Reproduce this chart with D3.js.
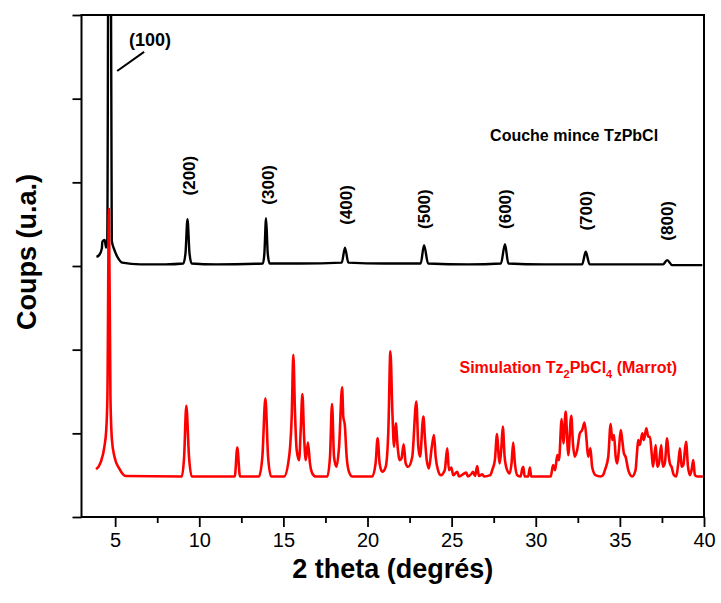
<!DOCTYPE html>
<html>
<head>
<meta charset="utf-8">
<script src="https://cdn.jsdelivr.net/npm/d3@7"></script>
<style>
  html, body { margin: 0; padding: 0; background: #fff; }
  svg { display: block; font-family: "Liberation Sans", Arial, Helvetica, sans-serif; }
</style>
</head>
<body>
<svg id="chart" width="721" height="603"></svg>
<script>
// ---------- data ----------
const xTicks = [5, 10, 15, 20, 25, 30, 35, 40];
const xMinorTicks = [7.5, 12.5, 17.5, 22.5, 27.5, 32.5, 37.5];
const yTicks = [0, 1, 2, 3, 4, 5, 6];

// Thin film pattern "Couche mince TzPbCl" : [2theta, counts (a.u.)]
const filmPattern = [
  [3.89,3.11],[4.05,3.13],[4.21,3.21],[4.24,3.29],[4.38,3.31],[4.46,3.22],[4.53,3.3],
  [4.66,12],[4.8,3.3],[4.96,3.19],[5.13,3.11],[5.42,3.04],[6.5,3.02],[8,3.02],
  [9.05,3.03],[9.18,3.15],[9.3,3.56],[9.42,3.15],[9.55,3.03],[11,3.02],
  [13.78,3.03],[13.87,3.15],[13.97,3.57],[14.07,3.15],[14.18,3.03],[16,3.03],
  [18.47,3.04],[18.66,3.22],[18.86,3.04],[21,3.03],
  [23.16,3.03],[23.36,3.25],[23.6,3.03],[26,3.02],
  [27.93,3.03],[28.17,3.26],[28.37,3.03],[30.5,3.02],
  [32.76,3.02],[32.97,3.17],[33.2,3.02],[35.5,3.02],
  [37.56,3.02],[37.81,3.07],[38.11,3.01],[39.9,3.01]
];

// Simulated pattern Tz2PbCl4 (Marrot) : [2theta, counts (a.u.)]
const simPattern = [
  [3.87,0.57],[4.15,0.66],[4.36,0.84],[4.47,1.04],[4.54,1.44],[4.63,3.68],[4.72,1.44],[4.81,0.92],
  [4.96,0.72],[5.24,0.58],[5.63,0.49],[8.96,0.484],[9.1,0.72],[9.23,1.33],[9.39,0.72],[9.55,0.484],
  [12.11,0.484],[12.26,0.83],[12.42,0.484],[13.55,0.484],[13.75,0.72],[13.93,1.42],[14.09,0.72],[14.27,0.484],
  [15.04,0.484],[15.34,0.72],[15.5,1.24],[15.59,1.94],[15.69,1.24],[15.79,0.8],[15.93,0.68],[16.03,1.04],
  [16.13,1.47],[16.23,0.96],[16.33,0.68],[16.46,0.89],[16.58,0.64],[16.72,0.52],[16.92,0.484],
  [17.61,0.484],[17.77,0.72],[17.89,1.35],[18.01,0.72],[18.15,0.6],[18.31,0.84],[18.49,1.55],[18.56,1.2],
  [18.65,1.1],[18.76,0.72],[18.9,0.54],[19.1,0.484],[20.28,0.484],[20.48,0.64],[20.6,0.94],[20.72,0.64],
  [20.88,0.54],[21.08,0.6],[21.24,1.04],[21.36,1.98],[21.48,1.24],[21.58,0.84],[21.68,1.12],[21.79,0.84],
  [21.91,0.68],[22.02,0.7],[22.15,0.87],[22.27,0.64],[22.42,0.6],[22.66,0.72],[22.9,1.38],[23.02,0.84],
  [23.12,0.72],[23.32,1.2],[23.42,0.92],[23.52,0.68],[23.65,0.58],[23.81,0.82],[23.95,0.98],[24.05,0.72],
  [24.19,0.56],[24.35,0.5],[24.59,0.56],[24.74,0.82],[24.84,0.56],[24.98,0.59],[25.1,0.5],[25.33,0.54],
  [25.44,0.484],[25.87,0.53],[25.97,0.484],[26.19,0.52],[26.27,0.54],[26.39,0.49],[26.52,0.61],[26.62,0.49],
  [26.82,0.51],[26.92,0.484],[27.3,0.5],[27.41,0.56],[27.57,0.68],[27.7,0.99],[27.8,0.72],[27.86,0.64],
  [27.96,0.84],[28.04,1.08],[28.15,0.72],[28.3,0.56],[28.45,0.52],[28.56,0.64],[28.66,0.89],[28.76,0.64],
  [28.9,0.5],[29.1,0.484],[29.2,0.58],[29.26,0.6],[29.34,0.484],[29.55,0.484],[29.65,0.59],[29.73,0.484],
  [30.89,0.484],[31.03,0.62],[31.15,0.56],[31.28,0.74],[31.38,0.68],[31.54,1.17],[31.64,0.88],[31.78,1.26],
  [31.87,0.92],[31.93,0.74],[32.11,1.21],[32.21,0.88],[32.31,0.72],[32.46,0.8],[32.62,1.0],[32.76,1.04],
  [32.9,1.13],[33.02,0.92],[33.11,0.72],[33.25,0.82],[33.35,0.6],[33.55,0.5],[33.85,0.484],[34.0,0.5],
  [34.11,0.56],[34.31,0.72],[34.45,1.11],[34.55,0.92],[34.65,0.98],[34.75,0.72],[34.84,0.64],[34.94,0.8],
  [35.05,1.04],[35.14,0.92],[35.24,0.76],[35.34,0.72],[35.5,0.56],[35.73,0.484],[35.93,0.56],[36.03,0.8],
  [36.09,0.92],[36.19,0.86],[36.33,1.0],[36.43,0.92],[36.57,1.06],[36.69,0.96],[36.79,0.96],[36.89,0.76],
  [36.97,0.6],[37.13,0.86],[37.22,0.6],[37.32,0.64],[37.46,0.86],[37.55,0.6],[37.67,0.64],[37.81,0.94],
  [37.91,0.72],[37.97,0.64],[38.07,0.6],[38.21,0.5],[38.35,0.484],[38.47,0.64],[38.57,0.82],[38.67,0.6],
  [38.77,0.62],[38.93,0.9],[39.05,0.6],[39.17,0.5],[39.26,0.56],[39.36,0.68],[39.46,0.5],[39.6,0.484],
  [39.93,0.484]
];

// Miller index labels of the film peaks
const peakLabels = ["(200)", "(300)", "(400)", "(500)", "(600)", "(700)", "(800)"];
const peakTheta  = [9.38, 14.1, 18.75, 23.38, 28.17, 32.97, 37.81];
const peakLabelLevel = [4.08, 3.97, 3.73, 3.68, 3.68, 3.66, 3.54];

// ---------- layout ----------
const svg = d3.select("#chart");
const L = 81.5, R = 704, T = 15, B = 517;

const x = d3.scaleLinear().domain([3, 40]).range([L, R]);
const y = d3.scaleLinear().domain([0, 6]).range([B, T]);

svg.append("defs").append("clipPath").attr("id", "plotclip")
  .append("rect").attr("x", L).attr("y", T).attr("width", R - L).attr("height", B - T);

const plot = svg.append("g").attr("clip-path", "url(#plotclip)");
const lineGen = d3.line().x(d => x(d[0])).y(d => y(d[1])).curve(d3.curveMonotoneX);

plot.append("path").datum(filmPattern)
  .attr("d", lineGen).attr("fill", "none")
  .attr("stroke", "#000").attr("stroke-width", 2.4).attr("stroke-linejoin", "round");

plot.append("path").datum(simPattern)
  .attr("d", lineGen).attr("fill", "none")
  .attr("stroke", "#ff0000").attr("stroke-width", 2.6).attr("stroke-linejoin", "round");

// ---------- axes ----------
const xAxis = svg.append("g").attr("transform", `translate(0,${B})`)
  .call(d3.axisBottom(x).tickValues(xTicks).tickSize(10).tickPadding(6).tickFormat(d3.format("d")));
xAxis.select(".domain").remove();
xAxis.selectAll(".tick line").attr("stroke", "#000").attr("stroke-width", 1.8);
xAxis.selectAll(".tick text").attr("font-size", 20).attr("fill", "#000")
  .attr("font-family", "'Liberation Sans', Arial, sans-serif");

const xMinor = svg.append("g").attr("transform", `translate(0,${B})`)
  .call(d3.axisBottom(x).tickValues(xMinorTicks).tickSize(6).tickFormat(""));
xMinor.select(".domain").remove();
xMinor.selectAll(".tick line").attr("stroke", "#000").attr("stroke-width", 1.8);

const yAxis = svg.append("g").attr("transform", `translate(${L},0)`)
  .call(d3.axisLeft(y).tickValues(yTicks).tickSize(9).tickFormat(""));
yAxis.select(".domain").remove();
yAxis.selectAll(".tick line").attr("stroke", "#000").attr("stroke-width", 1.8);

// frame
svg.append("rect").attr("x", L).attr("y", T).attr("width", R - L).attr("height", B - T)
  .attr("fill", "none").attr("stroke", "#000").attr("stroke-width", 2);

// axis titles
svg.append("text").attr("x", (L + R) / 2).attr("y", 578)
  .attr("text-anchor", "middle").attr("font-size", 27).attr("font-weight", "bold")
  .text("2 theta (degrés)");

svg.append("text").attr("transform", "translate(36,252) rotate(-90)")
  .attr("text-anchor", "middle").attr("font-size", 27).attr("font-weight", "bold")
  .text("Coups (u.a.)");

// ---------- annotations ----------
svg.append("text").attr("x", 150).attr("y", 46)
  .attr("text-anchor", "middle").attr("font-size", 18).attr("font-weight", "bold")
  .text("(100)");
svg.append("line")
  .attr("x1", x(6.72)).attr("y1", y(5.56)).attr("x2", x(5.12)).attr("y2", y(5.33))
  .attr("stroke", "#000").attr("stroke-width", 2);

peakLabels.forEach((lab, i) => {
  const cx = x(peakTheta[i]), cy = y(peakLabelLevel[i]);
  svg.append("text")
    .attr("transform", `translate(${cx},${cy}) rotate(-90)`)
    .attr("text-anchor", "middle").attr("dy", "0.35em")
    .attr("font-size", 17).attr("font-weight", "bold")
    .text(lab);
});

svg.append("text").attr("x", x(32.28)).attr("y", y(4.49))
  .attr("text-anchor", "middle").attr("font-size", 16).attr("font-weight", "bold")
  .text("Couche mince TzPbCl");

const sim = svg.append("text").attr("x", 459.5).attr("y", 372.5)
  .attr("font-size", 16).attr("font-weight", "bold").attr("fill", "#ff0000");
sim.append("tspan").text("Simulation Tz");
sim.append("tspan").attr("font-size", 11).attr("dy", 5).text("2");
sim.append("tspan").attr("dy", -5).text("PbCl");
sim.append("tspan").attr("font-size", 11).attr("dy", 5).text("4");
sim.append("tspan").attr("dy", -5).text(" (Marrot)");
</script>
</body>
</html>
